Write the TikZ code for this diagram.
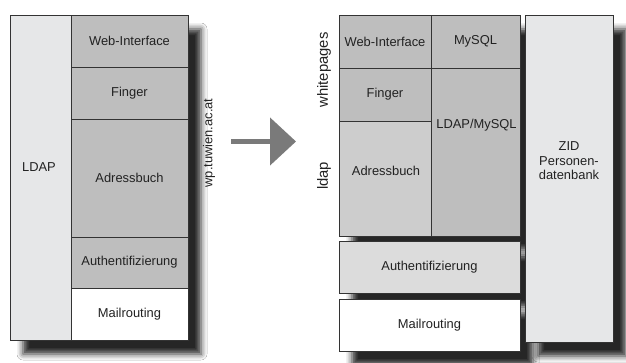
\documentclass[tikz,border=0pt]{standalone}
\usepackage{fontspec}
\setmainfont{Liberation Sans}
\usetikzlibrary{shadows.blur,arrows.meta}

\definecolor{paleg}{HTML}{E6E7E8}
\definecolor{midg}{HTML}{BEBEBE}
\definecolor{lightg}{HTML}{CDCDCD}
\definecolor{authg}{HTML}{DCDCDC}
\definecolor{edge}{HTML}{333333}
\definecolor{arrowg}{HTML}{7A7A7A}
\definecolor{ink}{HTML}{222222}

\begin{document}
\begin{tikzpicture}[x=1pt,y=-1pt,
  font=\fontsize{12.9}{14.5}\selectfont,
  cell/.style={draw=edge, line width=0.8pt, inner sep=0pt, text=ink},
  dropshade/.style={blur shadow={shadow xshift=13pt, shadow yshift=-14pt,
      shadow blur radius=6pt, shadow opacity=85}},
  lbl/.style={inner sep=0pt, text=ink},
  sidelbl/.style={inner sep=0pt, text=ink, rotate=90, font=\fontsize{14.8}{16}\selectfont},
  bigarrow/.style={draw=arrowg, line width=4.7pt,
      -{Triangle[length=26pt, width=47pt, fill=arrowg]}},
]
\useasboundingbox (0,0) rectangle (626,363);
\fill[white] (0,0) rectangle (626,363);

% ---------- old layout ----------
\node[cell, fill=white, dropshade, minimum width=178pt, minimum height=325pt] (oldframe) at (99,177.5) {};
\node[cell, fill=paleg, minimum width=61pt,  minimum height=325pt] (oldldap)  at (40.5,177.5) {};
\node[cell, fill=midg,  minimum width=117pt, minimum height=52pt]  (oldweb)   at (129.5,41)   {Web-Interface};
\node[cell, fill=midg,  minimum width=117pt, minimum height=52pt]  (oldfinger) at (129.5,93)  {Finger};
\node[cell, fill=midg,  minimum width=117pt, minimum height=118pt] (oldadress) at (129.5,178) {Adressbuch};
\node[cell, fill=midg,  minimum width=117pt, minimum height=51pt]  (oldauth)  at (129.5,262.5) {Authentifizierung};
\node[cell, fill=white, minimum width=117pt, minimum height=52pt]  (oldmail)  at (129.5,314)  {Mailrouting};
\node[lbl] (oldldaptext) at (39,167) {LDAP};
\node[lbl, rotate=90] (host) at (209,143) {wp.tuwien.ac.at};

% ---------- transition arrow ----------
\coordinate (arrowfrom) at (231,141.5);
\coordinate (arrowto)   at (296,141.5);
\draw[bigarrow] (arrowfrom) -- (arrowto);

% ---------- new layout ----------
\node[cell, fill=midg, dropshade, minimum width=181pt, minimum height=221pt] (newframe) at (429.5,125.5) {};
\node[cell, fill=midg,   minimum width=92pt, minimum height=53pt]  (newweb)    at (385,41.5)   {Web-Interface};
\node[cell, fill=midg,   minimum width=89pt, minimum height=53pt]  (newmysql)  at (475.5,41.5) {MySQL};
\node[cell, fill=midg,   minimum width=92pt, minimum height=53pt]  (newfinger) at (385,94.5)   {Finger};
\node[cell, fill=lightg, minimum width=92pt, minimum height=115pt] (newadress) at (385,178.5)  {};
\node[cell, fill=midg,   minimum width=89pt, minimum height=168pt] (newldapsql) at (475.5,152) {};
\node[lbl] (newadresstext)  at (386,171)   {Adressbuch};
\node[lbl] (newldapsqltext) at (476.5,125) {LDAP/MySQL};

\node[cell, fill=authg, dropshade, minimum width=181pt, minimum height=52pt] (newauth) at (429.5,267) {Authentifizierung};
\node[cell, fill=white, dropshade, minimum width=181pt, minimum height=52pt] (newmail) at (429.5,325) {Mailrouting};

\node[cell, fill=paleg, dropshade, minimum width=88pt, minimum height=327pt] (zid) at (569,178.5) {};
\node[lbl, align=center] (zidtext) at (569,161) {ZID\\Personen-\\datenbank};

\node[sidelbl] (wplabel)   at (324,70)  {whitepages};
\node[sidelbl] (ldaplabel) at (324,176) {ldap};
\end{tikzpicture}
\end{document}
